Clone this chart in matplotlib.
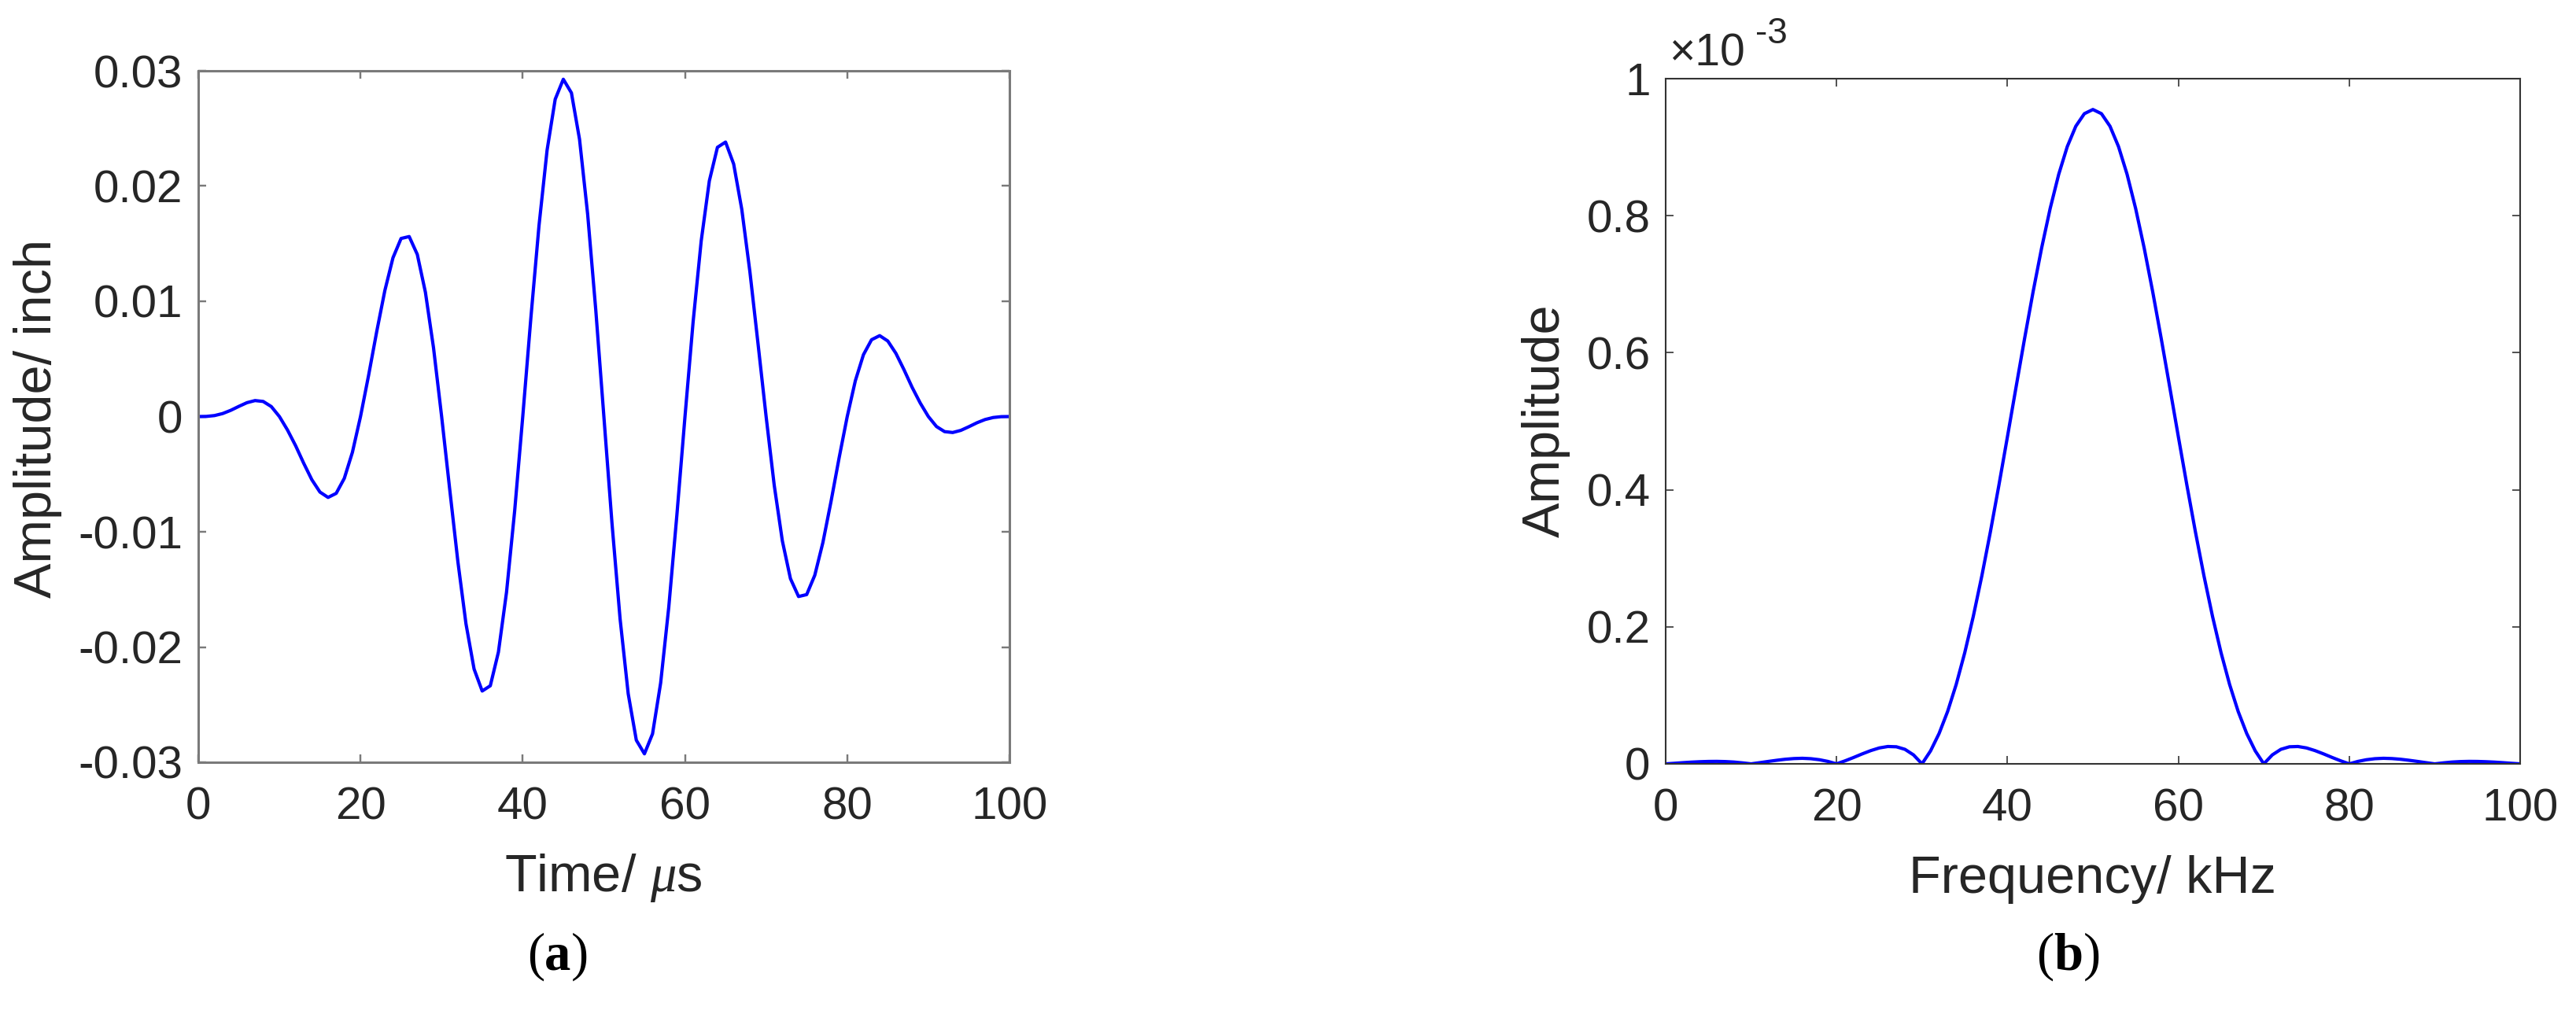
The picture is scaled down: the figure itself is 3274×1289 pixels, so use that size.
import matplotlib
matplotlib.use("Agg")
import matplotlib.pyplot as plt
from matplotlib.offsetbox import TextArea, HPacker, AnnotationBbox

# ---------------- data ----------------
time_us = list(range(0, 101))
displacement_inch = [
    0.0, 0.000011, 0.000084, 0.000258, 0.000538, 0.000881, 0.001202, 0.001386, 0.001309, 0.000866,
    0.0, -0.001170, -0.002533, -0.004058, -0.005483, -0.006554, -0.007019, -0.006666, -0.005367, -0.003105,
    0.0, 0.003586, 0.007380, 0.010932, 0.013772, 0.015450, 0.015617, 0.014066, 0.010783, 0.005962,
    0.0, -0.006341, -0.012571, -0.017981, -0.021911, -0.023817, -0.023360, -0.020442, -0.015244, -0.008206,
    0.0, 0.008548, 0.016543, 0.023115, 0.027531, 0.029266, 0.028085, 0.024055, 0.017564, 0.009261,
    0.0,
    -0.009261, -0.017564, -0.024055, -0.028085, -0.029266, -0.027531, -0.023115, -0.016543, -0.008548, 0.0,
    0.008206, 0.015244, 0.020442, 0.023360, 0.023817, 0.021911, 0.017981, 0.012571, 0.006341, 0.0,
    -0.005962, -0.010783, -0.014066, -0.015617, -0.015450, -0.013772, -0.010932, -0.007380, -0.003586, 0.0,
    0.003105, 0.005367, 0.006666, 0.007019, 0.006554, 0.005483, 0.004058, 0.002533, 0.001170, 0.0,
    -0.000866, -0.001309, -0.001386, -0.001202, -0.000881, -0.000538, -0.000258, -0.000084, -0.000011, 0.0,
]

freq_khz = list(range(0, 101))
spectrum_e3 = [
    0.0, 0.0008, 0.0017, 0.0025, 0.0031, 0.0035, 0.0036, 0.0033, 0.0026, 0.0014,
    0.0, 0.0017, 0.0035, 0.0052, 0.0067, 0.0077, 0.0081, 0.0075, 0.0060, 0.0035,
    0.0, 0.0044, 0.0093, 0.0145, 0.0193, 0.0232, 0.0253, 0.0249, 0.0212, 0.0131,
    0.0, 0.0189, 0.0443, 0.0765, 0.1158, 0.1621, 0.2151, 0.2742, 0.3384, 0.4067,
    0.4775, 0.5493, 0.6204, 0.6889, 0.7529, 0.8106, 0.8604, 0.9008, 0.9306, 0.9489,
    0.9550,
    0.9489, 0.9306, 0.9008, 0.8604, 0.8106, 0.7529, 0.6889, 0.6204, 0.5493, 0.4775,
    0.4067, 0.3384, 0.2742, 0.2151, 0.1621, 0.1158, 0.0765, 0.0443, 0.0189, 0.0,
    0.0131, 0.0212, 0.0249, 0.0253, 0.0232, 0.0193, 0.0145, 0.0093, 0.0044, 0.0,
    0.0035, 0.0060, 0.0075, 0.0081, 0.0077, 0.0067, 0.0052, 0.0035, 0.0017, 0.0,
    0.0014, 0.0026, 0.0033, 0.0036, 0.0035, 0.0031, 0.0025, 0.0017, 0.0008, 0.0,
]

x_ticks = [0, 20, 40, 60, 80, 100]
x_ticklabels = ["0", "20", "40", "60", "80", "100"]
y1_ticks = [-0.03, -0.02, -0.01, 0.0, 0.01, 0.02, 0.03]
y1_ticklabels = ["-0.03", "-0.02", "-0.01", "0", "0.01", "0.02", "0.03"]
y2_ticks = [0, 0.2, 0.4, 0.6, 0.8, 1.0]
y2_ticklabels = ["0", "0.2", "0.4", "0.6", "0.8", "1"]

# ---------------- figure ----------------
plt.rcParams['font.family'] = ['Liberation Sans', 'DejaVu Sans']
plt.rcParams['mathtext.fontset'] = 'custom'
plt.rcParams['mathtext.rm'] = 'Liberation Sans'
plt.rcParams['mathtext.it'] = 'Liberation Serif:italic'

W, H = 3274, 1289
fig = plt.figure(figsize=(W / 100, H / 100), dpi=100)

def fx(px):
    return px / W

def fy(py):
    return 1 - py / H

TXT = '#262626'

ax1 = fig.add_axes([fx(252), fy(969), (1283 - 252) / W, (969 - 90) / H])
ax2 = fig.add_axes([fx(2117), fy(971), (3203 - 2117) / W, (971 - 100) / H])

ax1.plot(time_us, displacement_inch, color=(0, 0, 1), lw=3.0)
ax2.plot(freq_khz, spectrum_e3, color=(0, 0, 1), lw=3.0)

ax1.set_xlim(0, 100)
ax1.set_ylim(-0.03, 0.03)
ax2.set_xlim(0, 100)
ax2.set_ylim(0, 1)

for ax, yt, ytl, scol, slw in [(ax1, y1_ticks, y1_ticklabels, '#7a7a7a', 2.2),
                               (ax2, y2_ticks, y2_ticklabels, '#333333', 1.5)]:
    ax.set_xticks(x_ticks)
    ax.set_xticklabels(x_ticklabels)
    ax.set_yticks(yt)
    ax.set_yticklabels(ytl)
    for sp in ax.spines.values():
        sp.set_color(scol)
        sp.set_linewidth(slw)
    ax.tick_params(axis='both', which='major', direction='in', length=7.5,
                   width=slw * 0.8, color=scol, labelsize=42, labelcolor=TXT,
                   top=True, right=True)
    ax.tick_params(axis='x', pad=22)
    ax.tick_params(axis='y', pad=14)

# axis labels
fig.text(fx(48), fy(532), 'Amplitude/ inch', rotation=90, ha='center', va='center',
         fontsize=48, color=TXT)
fig.text(fx(767), fy(1133), r'Time/ $\mu$s', ha='center', va='baseline',
         fontsize=48, color=TXT)
fig.text(fx(1965), fy(535), 'Amplitude', rotation=90, ha='center', va='center',
         fontsize=48, color=TXT)
fig.text(fx(2660), fy(1135), 'Frequency/ kHz', ha='center', va='baseline',
         fontsize=48, color=TXT)

# exponent label
fig.text(fx(2121), fy(83), '\u00d710', ha='left', va='baseline', fontsize=41, color=TXT)
fig.text(fx(2231), fy(55), '-3', ha='left', va='baseline', fontsize=33, color=TXT)

# panel letters
def panel(letter, xpx, ypx):
    serif = 'Liberation Serif'
    kids = [TextArea('(', textprops=dict(fontfamily=serif, fontsize=48, color='black')),
            TextArea(letter, textprops=dict(fontfamily=serif, fontsize=48, fontweight='bold', color='black')),
            TextArea(')', textprops=dict(fontfamily=serif, fontsize=48, color='black'))]
    box = HPacker(children=kids, sep=0, pad=0, align='baseline')
    ab = AnnotationBbox(box, (fx(xpx), fy(ypx)), xycoords='figure fraction',
                        frameon=False, box_alignment=(0.5, 0.5), pad=0)
    fig.add_artist(ab)

panel('a', 709, 1216)
panel('b', 2629, 1216)

fig.savefig('out.png', dpi=100)
